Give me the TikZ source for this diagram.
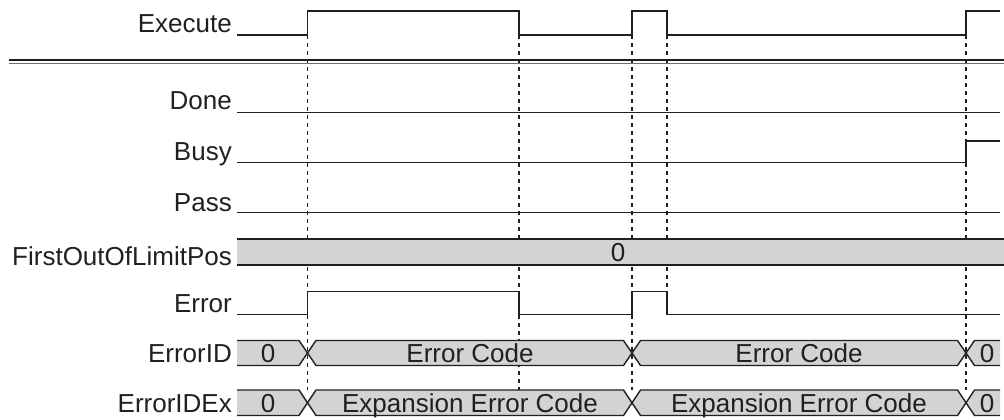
\documentclass[tikz,border=0pt]{standalone}
\usepackage{fontspec}
\setmainfont{Liberation Sans}
\definecolor{ink}{HTML}{231F20}
\definecolor{bandgray}{HTML}{D1D3D4}
\begin{document}
\begin{tikzpicture}[x=1pt,y=-1pt,
  sig/.style={draw=ink,line width=1.4pt,line join=miter},
  guide/.style={draw=ink,line width=1.1pt,dash pattern=on 4pt off 4pt},
  bus/.style={fill=bandgray,draw=ink,line width=1.4pt,line join=miter},
  lbl/.style={anchor=base east,inner sep=0pt,font=\fontsize{26}{30}\selectfont,text=ink},
  val/.style={anchor=base,inner sep=0pt,font=\fontsize{26}{30}\selectfont,text=ink}]
\useasboundingbox (0,0) rectangle (1004,420);

% guide lines (behind everything)
\foreach \x in {307.5,519,632,966} \draw[guide] (\x,35) -- (\x,390);
\draw[guide] (667,35) -- (667,291.5);

% labels
\node[lbl] (lexec) at (232,32.5) {Execute};
\node[lbl] (ldone) at (232,110) {Done};
\node[lbl] (lbusy) at (232,160) {Busy};
\node[lbl] (lpass) at (232,211) {Pass};
\node[lbl] (lfolp) at (232,265) {FirstOutOfLimitPos};
\node[lbl] (lerr) at (232,312) {Error};
\node[lbl] (lid) at (232,362.7) {ErrorID};
\node[lbl] (lidex) at (232,412.5) {ErrorIDEx};

% Execute
\draw[sig] (237,35) -| (307.5,11) -| (519,35) -| (632,11) -| (667,35) -| (966,11) -- (1000,11);

% double separator
\draw[draw=ink,line width=2pt] (9,60) -- (1004,60);
\draw[draw=ink!65,line width=0.9pt] (9,63.5) -- (1004,63.5);

% Done, Busy, Pass
\draw[sig] (237,112.5) -- (1000,112.5);
\draw[sig] (237,162.5) -| (966,141) -- (1000,141);
\draw[sig] (237,212.5) -- (1000,212.5);

% FirstOutOfLimitPos
\fill[bandgray] (237,239) rectangle (1004,265);
\draw[sig] (237,239) -- (1004,239);
\draw[sig] (237,265) -- (1004,265);
\node[val] (vfolp) at (618,261.7) {0};

% Error
\draw[sig] (237,314.5) -| (307.5,291.5) -| (519,314.5) -| (632,291.5) -| (667,314.5) -- (1000,314.5);

% ErrorID and ErrorIDEx buses
\foreach \t/\b in {340.5/365.5,390/415.5}{
  \pgfmathsetmacro\m{(\t+\b)/2}
  \path[bus] (237,\t) -- (299,\t) -- (307.5,\m) -- (299,\b) -- (237,\b);
  \path[bus] (307.5,\m) -- (316,\t) -- (623.5,\t) -- (632,\m) -- (623.5,\b) -- (316,\b) -- cycle;
  \path[bus] (632,\m) -- (640.5,\t) -- (957.5,\t) -- (966,\m) -- (957.5,\b) -- (640.5,\b) -- cycle;
  \path[bus] (1000,\t) -- (974.5,\t) -- (966,\m) -- (974.5,\b) -- (1000,\b);
}
\node[val] (id0) at (268,362.7) {0};
\node[val] (id1) at (470,362.7) {Error Code};
\node[val] (id2) at (799,362.7) {Error Code};
\node[val] (id3) at (987,362.7) {0};
\node[val] (ex0) at (268,412.5) {0};
\node[val] (ex1) at (470,412.5) {Expansion Error Code};
\node[val] (ex2) at (799,412.5) {Expansion Error Code};
\node[val] (ex3) at (987,412.5) {0};
\end{tikzpicture}
\end{document}
